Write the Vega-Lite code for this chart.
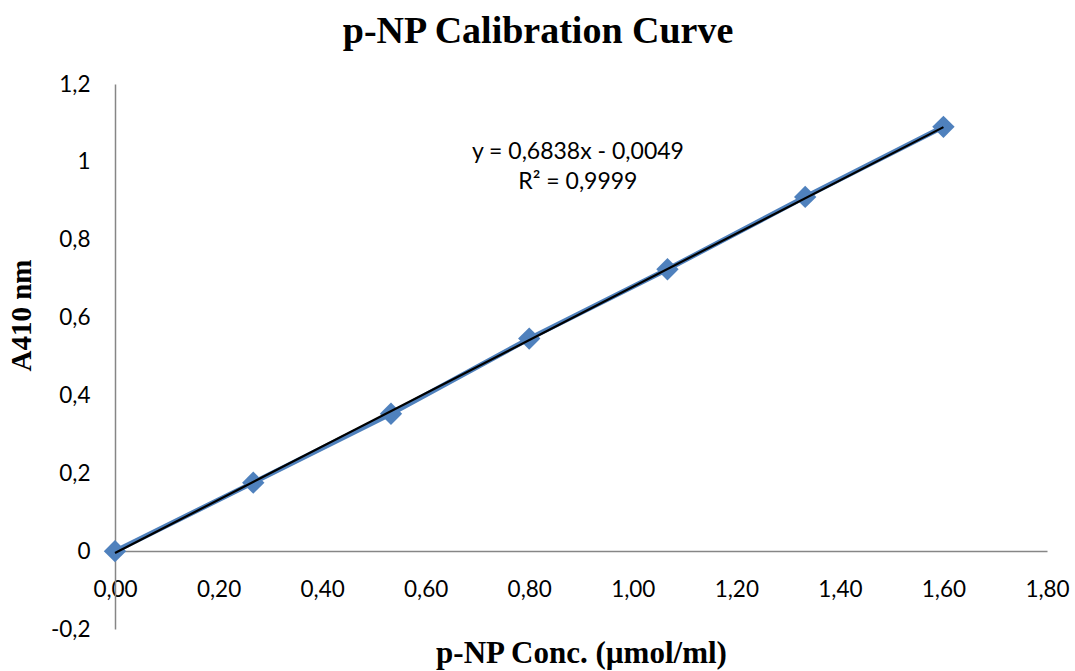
{
  "$schema": "https://vega.github.io/schema/vega-lite/v6.json",
  "width": 932,
  "height": 545,
  "autosize": {"type": "none"},
  "padding": {"left": 115, "top": 84, "right": 28, "bottom": 42},
  "background": "white",
  "config": {
    "locale": {"number": {"decimal": ",", "thousands": ".", "grouping": [3], "currency": ["", " €"], "minus": "-"}},
    "view": {"stroke": null},
    "axis": {
      "grid": false,
      "ticks": false,
      "domainColor": "#868686",
      "domainWidth": 1.5,
      "labelFont": "Lato",
      "labelFontSize": 22.5,
      "labelColor": "#000000",
      "titleFont": "Liberation Serif",
      "titleFontWeight": "bold",
      "titleColor": "#000000"
    }
  },
  "title": {
    "text": "p-NP Calibration Curve",
    "font": "Liberation Serif",
    "fontSize": 38,
    "fontWeight": "bold",
    "color": "#000000",
    "anchor": "middle",
    "frame": "bounds",
    "offset": 22
  },
  "datasets": {
    "standards": [
      {"conc": 0.0, "a410": 0.0},
      {"conc": 0.267, "a410": 0.176},
      {"conc": 0.533, "a410": 0.353},
      {"conc": 0.8, "a410": 0.546},
      {"conc": 1.067, "a410": 0.724},
      {"conc": 1.333, "a410": 0.91},
      {"conc": 1.6, "a410": 1.09}
    ],
    "fit": [
      {"conc": 0.0, "a410": -0.0049},
      {"conc": 1.6, "a410": 1.0892}
    ],
    "equation": [
      {"conc": 0.894, "a410": 1.025, "label": "y = 0,6838x - 0,0049"},
      {"conc": 0.894, "a410": 0.948, "label": "R² = 0,9999"}
    ]
  },
  "encoding": {
    "x": {
      "field": "conc",
      "type": "quantitative",
      "scale": {"domain": [0, 1.8], "nice": false, "zero": false},
      "axis": {
        "title": "p-NP Conc. (µmol/ml)",
        "titleFontSize": 31,
        "values": [0, 0.2, 0.4, 0.6, 0.8, 1.0, 1.2, 1.4, 1.6, 1.8],
        "format": ".2f",
        "offset": -78,
        "labelPadding": 27,
        "labelFlush": false,
        "titleY": 111,
        "titleBaseline": "alphabetic"
      }
    },
    "y": {
      "field": "a410",
      "type": "quantitative",
      "scale": {"domain": [-0.2, 1.2], "nice": false, "zero": false},
      "axis": {
        "title": "A410 nm",
        "titleFontSize": 29,
        "values": [-0.2, 0, 0.2, 0.4, 0.6, 0.8, 1.0, 1.2],
        "format": "~g",
        "labelPadding": 25,
        "labelFlush": false,
        "titleAngle": -90,
        "titleX": -94,
        "titleY": 231,
        "titleAlign": "center",
        "titleBaseline": "middle"
      }
    }
  },
  "layer": [
    {
      "data": {"name": "standards"},
      "mark": {"type": "line", "color": "#4F81BD", "strokeWidth": 5},
      "encoding": {}
    },
    {
      "data": {"name": "standards"},
      "mark": {"type": "point", "shape": "diamond", "filled": true, "size": 500, "color": "#4F81BD", "opacity": 1},
      "encoding": {}
    },
    {
      "data": {"name": "fit"},
      "mark": {"type": "line", "color": "#000000", "strokeWidth": 2.2},
      "encoding": {}
    },
    {
      "data": {"name": "equation"},
      "mark": {"type": "text", "font": "Lato", "fontSize": 23, "color": "#000000", "align": "center", "baseline": "middle"},
      "encoding": {"text": {"field": "label"}}
    }
  ]
}
